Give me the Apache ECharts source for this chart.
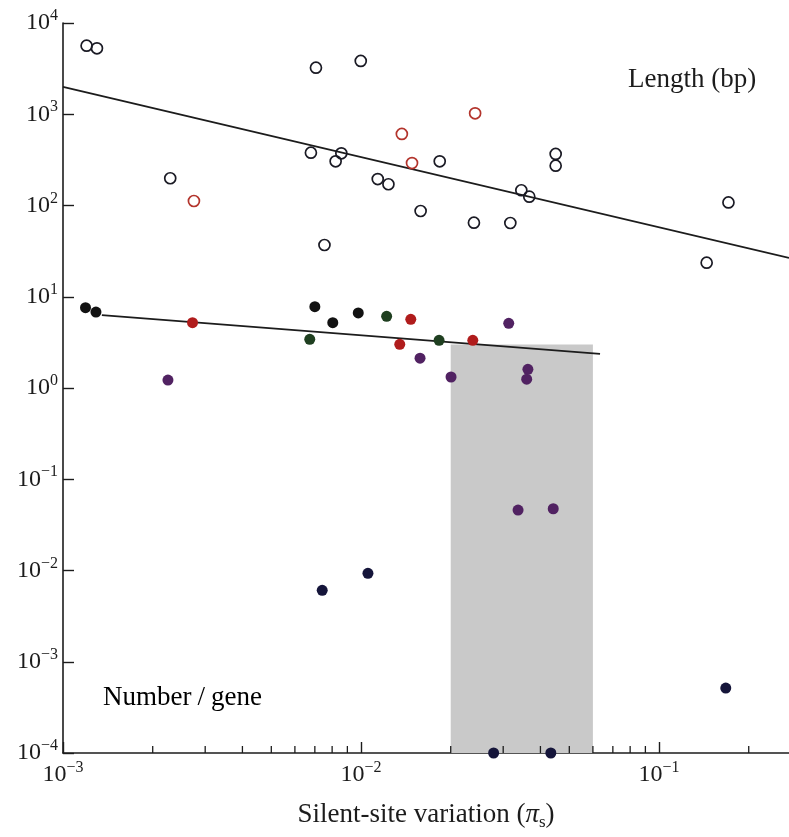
<!DOCTYPE html>
<html>
<head>
<meta charset="utf-8">
<script src="https://cdn.jsdelivr.net/npm/echarts@6/dist/echarts.min.js"></script>
<style>
  html, body { margin: 0; padding: 0; background: #ffffff; }
  #chart { width: 789px; height: 837px; }
</style>
</head>
<body>
<div id="chart"></div>
<script>
// ---- data (x = silent-site variation, y = value) ----
const xRange = [0.001, 0.273];
const yRange = [1e-4, 1e4];
const xMinorTicks = [0.002, 0.003, 0.004, 0.005, 0.006, 0.007, 0.008, 0.009,
                     0.02, 0.03, 0.04, 0.05, 0.06, 0.07, 0.08, 0.09, 0.2];

// Length (bp), open circles
const lengthBlack = [
  [0.00120, 5640], [0.00130, 5280], [0.00229, 199], [0.00706, 3236], [0.00998, 3837],
  [0.00679, 379], [0.00822, 305], [0.00859, 373], [0.00754, 36.9], [0.01138, 195],
  [0.01236, 171], [0.01837, 305], [0.01585, 87], [0.02393, 64.8], [0.03170, 64.3],
  [0.03451, 147], [0.03670, 125], [0.04500, 367], [0.04500, 273], [0.1710, 108],
  [0.1445, 23.6]
];
const lengthRed = [[0.00275, 112], [0.01371, 608], [0.02415, 1024], [0.01483, 292]];

// Number/gene, filled dots
const numberBlack = [[0.00119, 7.59], [0.00129, 6.80], [0.00700, 7.78], [0.00804, 5.20], [0.00979, 6.64]];
const numberRed = [[0.00272, 5.20], [0.01349, 3.01], [0.01469, 5.66], [0.02372, 3.33]];
const numberGreen = [[0.00673, 3.42], [0.01219, 6.11], [0.01828, 3.33]];
const numberPurple = [[0.00225, 1.22], [0.03131, 5.12], [0.01578, 2.12], [0.02005, 1.32],
                      [0.03631, 1.60], [0.03597, 1.25], [0.03365, 0.0460], [0.04416, 0.0475]];
const numberNavy = [[0.00741, 0.00607], [0.01055, 0.00931], [0.02786, 1e-4], [0.04335, 1e-4], [0.1675, 5.15e-4]];

// regression lines
const lengthFit = [[0.001, 1990], [0.273, 26.6]];
const numberFit = [[0.00135, 6.3], [0.0634, 2.36]];

// shaded band
const shadeX = [0.02, 0.06];
const shadeY = [1e-4, 3];

// ---- chart ----
const SERIF = '"Liberation Serif", "DejaVu Serif", serif';
const INK = '#1c1c1c';

function powLabel(v) {
  const l = Math.log10(v);
  const e = Math.round(l);
  if (Math.abs(l - e) > 1e-6) return '';
  return '{b|10}{s|' + (e < 0 ? '\u2212' + (-e) : String(e)) + '}';
}
const powRich = {
  b: { fontFamily: SERIF, fontSize: 24, color: INK, lineHeight: 30 },
  s: { fontFamily: SERIF, fontSize: 16, color: INK, lineHeight: 16, verticalAlign: 'top' }
};

const chart = echarts.init(document.getElementById('chart'), null, { renderer: 'canvas' });

function dots(data, color, open) {
  return {
    type: 'scatter',
    data: data,
    symbol: 'circle',
    symbolSize: 11,
    clip: false,
    z: 5,
    itemStyle: open
      ? { color: 'rgba(255,255,255,0)', borderColor: color, borderWidth: 1.7, opacity: 1 }
      : { color: color, borderWidth: 0, opacity: 1 },
    emphasis: { disabled: true },
    silent: true
  };
}

const option = {
  animation: false,
  backgroundColor: '#ffffff',
  grid: { left: 63, right: 0, top: 23, bottom: 84, containLabel: false },
  xAxis: {
    type: 'log',
    logBase: 10,
    min: xRange[0],
    max: xRange[1],
    axisLine: { show: true, lineStyle: { color: INK, width: 1.6 } },
    axisTick: { show: true, inside: true, length: 11, lineStyle: { color: INK, width: 1.4 } },
    splitLine: { show: false },
    axisLabel: { formatter: powLabel, rich: powRich, margin: 7, showMaxLabel: false },
    name: '{a|Silent-site variation (}{p|\u03C0}{sub|s}{a|)}',
    nameLocation: 'middle',
    nameGap: 46,
    nameTextStyle: {
      rich: {
        a: { fontFamily: SERIF, fontSize: 27, color: INK, lineHeight: 32 },
        p: { fontFamily: SERIF, fontSize: 27, color: INK, lineHeight: 32, fontStyle: 'italic' },
        sub: { fontFamily: SERIF, fontSize: 17, color: INK, lineHeight: 18, verticalAlign: 'bottom' }
      }
    }
  },
  yAxis: {
    type: 'log',
    logBase: 10,
    min: yRange[0],
    max: yRange[1],
    axisLine: { show: true, lineStyle: { color: INK, width: 1.6 } },
    axisTick: { show: true, inside: true, length: 11, lineStyle: { color: INK, width: 1.4 } },
    splitLine: { show: false },
    axisLabel: { formatter: powLabel, rich: powRich, margin: 5 }
  },
  graphic: [
    {
      type: 'text', left: 628, top: 66, silent: true,
      style: { text: 'Length (bp)', font: '27px ' + SERIF, fill: INK }
    },
    {
      type: 'text', left: 103, top: 684, silent: true,
      style: {
        text: '{a|Number}{sl|/}{a|gene}',
        rich: {
          a: { fontFamily: SERIF, fontSize: 27, color: INK },
          sl: { fontFamily: SERIF, fontSize: 27, color: INK, padding: [0, 6, 0, 6] }
        }
      }
    }
  ],
  series: [
    {
      type: 'line', data: [], silent: true, z: 1,
      markArea: {
        silent: true,
        itemStyle: { color: '#c9c9c9', opacity: 1 },
        data: [[{ coord: [shadeX[0], shadeY[0]] }, { coord: [shadeX[1], shadeY[1]] }]]
      }
    },
    {
      type: 'custom',
      silent: true,
      z: 3,
      clip: false,
      data: xMinorTicks.map(v => [v, yRange[0]]),
      renderItem: function (params, api) {
        const p = api.coord([api.value(0), api.value(1)]);
        return {
          type: 'line',
          shape: { x1: p[0], y1: p[1], x2: p[0], y2: p[1] - 7 },
          style: { stroke: INK, lineWidth: 1.3 }
        };
      }
    },
    {
      type: 'line', data: lengthFit, symbol: 'none', silent: true, z: 4,
      lineStyle: { color: INK, width: 1.8 }
    },
    {
      type: 'line', data: numberFit, symbol: 'none', silent: true, z: 4,
      lineStyle: { color: INK, width: 1.8 }
    },
    dots(lengthBlack, '#1a1a24', true),
    dots(lengthRed, '#b3342c', true),
    dots(numberBlack, '#121212', false),
    dots(numberRed, '#b01c1c', false),
    dots(numberGreen, '#1f3f20', false),
    dots(numberPurple, '#512262', false),
    dots(numberNavy, '#15153a', false)
  ]
};

chart.setOption(option);
</script>
</body>
</html>
